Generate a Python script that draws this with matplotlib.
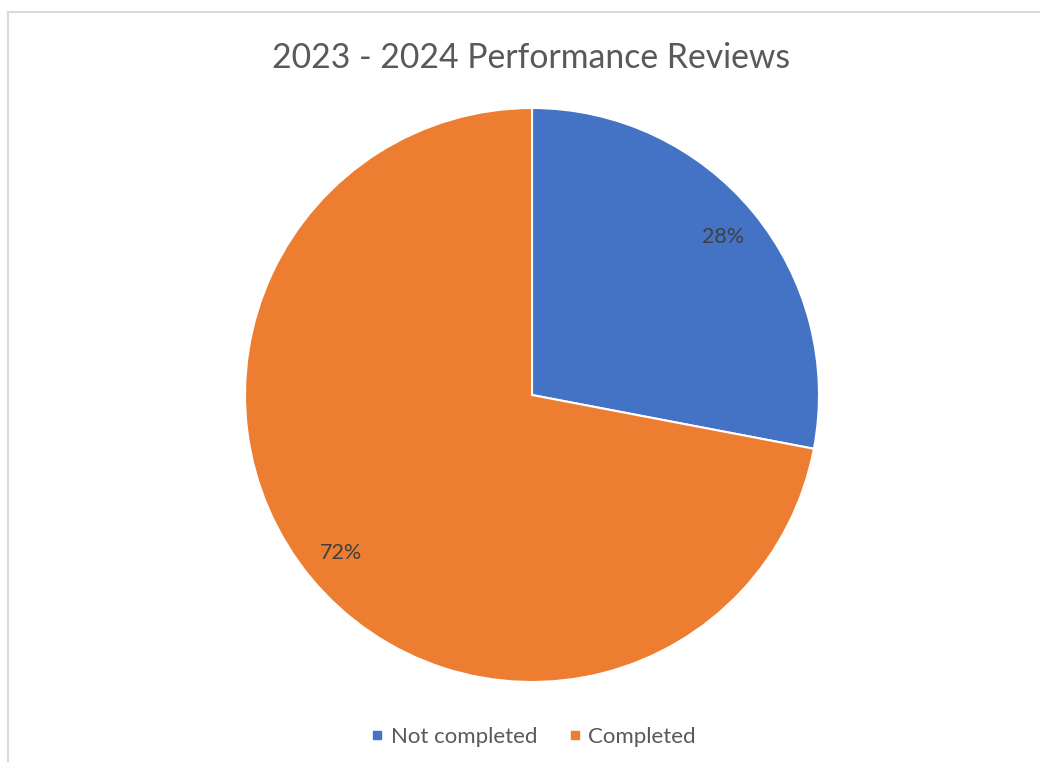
import matplotlib.pyplot as plt
from matplotlib.lines import Line2D

categories = ['Not completed', 'Completed']
values = [28, 72]
colors = ['#4472C4', '#ED7D31']
title = '2023 - 2024 Performance Reviews'

plt.rcParams['font.family'] = ['Lato', 'DejaVu Sans']
text_color = '#595959'

fig = plt.figure(figsize=(10.4, 7.62), dpi=100)

# chart frame (top and left edges visible)
fig.add_artist(Line2D([8/1040, 8/1040], [0, 1 - 12/762], color='#d9d9d9', lw=1.5))
fig.add_artist(Line2D([8/1040, 1], [1 - 12/762, 1 - 12/762], color='#d9d9d9', lw=1.5))

# pie area in pixel terms: centre (532, 395), radius 287
cx, cy, r = 532, 395, 287
ax = fig.add_axes([(cx - r)/1040, (762 - cy - r)/762, 2*r/1040, 2*r/762])
wedges, texts, autotexts = ax.pie(values, colors=colors, startangle=90, counterclock=False,
                                  autopct='%1.0f%%', pctdistance=0.865, radius=1,
                                  wedgeprops=dict(edgecolor='white', linewidth=1.5),
                                  textprops=dict(color='#404040', fontsize=15.5))
ax.set_xlim(-1, 1)
ax.set_ylim(-1, 1)
ax.set_aspect('auto')
ax.axis('off')

fig.text(531/1040, 1 - 58/762, title, ha='center', va='center', fontsize=24.3, color=text_color)

handles = [Line2D([], [], marker='s', ls='', color=c, markersize=6) for c in colors]
fig.legend(handles, categories, loc='center', bbox_to_anchor=(531/1040, 1 - 737/762), ncol=2,
           frameon=False, fontsize=16, labelcolor=text_color, handletextpad=0.1, columnspacing=1.2,
           handlelength=1.0)

fig.savefig('out.png', dpi=100)
